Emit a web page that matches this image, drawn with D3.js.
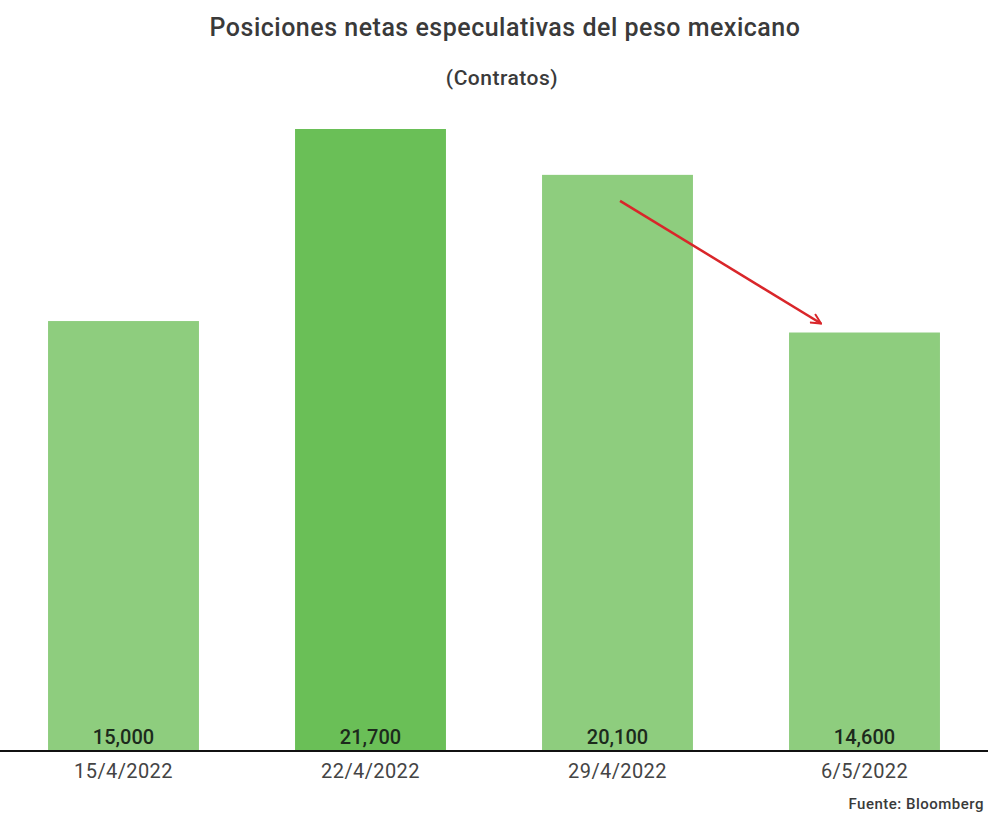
<!DOCTYPE html>
<html>
<head>
<meta charset="utf-8">
<script src="https://cdn.jsdelivr.net/npm/d3@7"></script>
<style>
  body { margin: 0; background: #fff; }
  text { font-family: Roboto, "Noto Sans", sans-serif; }
</style>
</head>
<body>
<div id="chart"></div>
<script>
// Datos: posiciones netas especulativas (contratos)
var fechas = ["15/4/2022", "22/4/2022", "29/4/2022", "6/5/2022"];
var contratos = [15000, 21700, 20100, 14600];
var destacado = [false, true, false, false];

var width = 1000, height = 825;

var svg = d3.select("#chart")
      .append("svg")
      .attr("width", width)
      .attr("height", height);

var baseY = 751;

var xScale = d3.scaleBand()
      .domain(fechas)
      .range([0, 988])
      .paddingInner(0.389)
      .paddingOuter(0.1945);

var yScale = d3.scaleLinear()
      .domain([0, d3.max(contratos)])
      .range([baseY, 129]);

var datos = fechas.map(function(f, i) {
  return {fecha: f, valor: contratos[i], dest: destacado[i]};
});

// Titulo
svg.append("text")
  .attr("x", 505).attr("y", 36)
  .attr("text-anchor", "middle")
  .style("font-size", "25px").style("font-weight", "500")
  .style("letter-spacing", "0.5px")
  .style("fill", "#3a3a3a")
  .text("Posiciones netas especulativas del peso mexicano");

svg.append("text")
  .attr("x", 502).attr("y", 85)
  .attr("text-anchor", "middle")
  .style("font-size", "21px").style("font-weight", "500")
  .style("letter-spacing", "0.5px")
  .style("fill", "#3a3a3a")
  .text("(Contratos)");

// Barras
var bars = svg.selectAll(".bar")
      .data(datos)
      .enter()
      .append("g")
      .attr("class", "bar");

bars.append("rect")
  .attr("x", function(d) { return xScale(d.fecha); })
  .attr("y", function(d) { return yScale(d.valor); })
  .attr("width", xScale.bandwidth())
  .attr("height", function(d) { return baseY - yScale(d.valor); })
  .style("fill", function(d) { return d.dest ? "#6abf57" : "#8ecd7e"; });

bars.append("text")
  .attr("x", function(d) { return xScale(d.fecha) + xScale.bandwidth() / 2; })
  .attr("y", baseY - 7)
  .attr("text-anchor", "middle")
  .style("font-size", "20px").style("font-weight", "500")
  .style("fill", "#1c2a1c")
  .text(function(d) { return d3.format(",")(d.valor); });

// Eje x
var xAxis = svg.append("g")
      .attr("transform", "translate(0," + baseY + ")")
      .call(d3.axisBottom(xScale).tickSize(0).tickPadding(13));
xAxis.select(".domain").remove();
xAxis.append("line")
  .attr("x1", 0).attr("x2", 988)
  .attr("y1", 0).attr("y2", 0)
  .style("stroke", "#111").style("stroke-width", 2);
xAxis.selectAll("text")
  .style("font-size", "20px")
  .style("letter-spacing", "0.4px")
  .style("font-family", "Roboto, sans-serif")
  .style("fill", "#444");

// Flecha (de 29/4 a 6/5)
svg.append("defs").append("marker")
  .attr("id", "punta")
  .attr("viewBox", "0 0 12 12")
  .attr("refX", 11).attr("refY", 6)
  .attr("markerWidth", 12).attr("markerHeight", 12)
  .attr("markerUnits", "userSpaceOnUse")
  .attr("orient", "auto")
  .append("path")
  .attr("d", "M1,1 L11,6 L1,11")
  .style("fill", "none")
  .style("stroke", "#d9262a")
  .style("stroke-width", 2);

svg.append("line")
  .attr("x1", xScale(fechas[2]) + 78)
  .attr("y1", yScale(contratos[2]) + 26)
  .attr("x2", xScale(fechas[3]) + 32)
  .attr("y2", yScale(contratos[3]) - 9)
  .style("stroke", "#d9262a")
  .style("stroke-width", 2.5)
  .attr("marker-end", "url(#punta)");

// Fuente
svg.append("text")
  .attr("x", 984).attr("y", 809)
  .attr("text-anchor", "end")
  .style("font-size", "15px").style("font-weight", "500")
  .style("letter-spacing", "0.5px")
  .style("fill", "#3a3a3a")
  .text("Fuente: Bloomberg");
</script>
</body>
</html>
